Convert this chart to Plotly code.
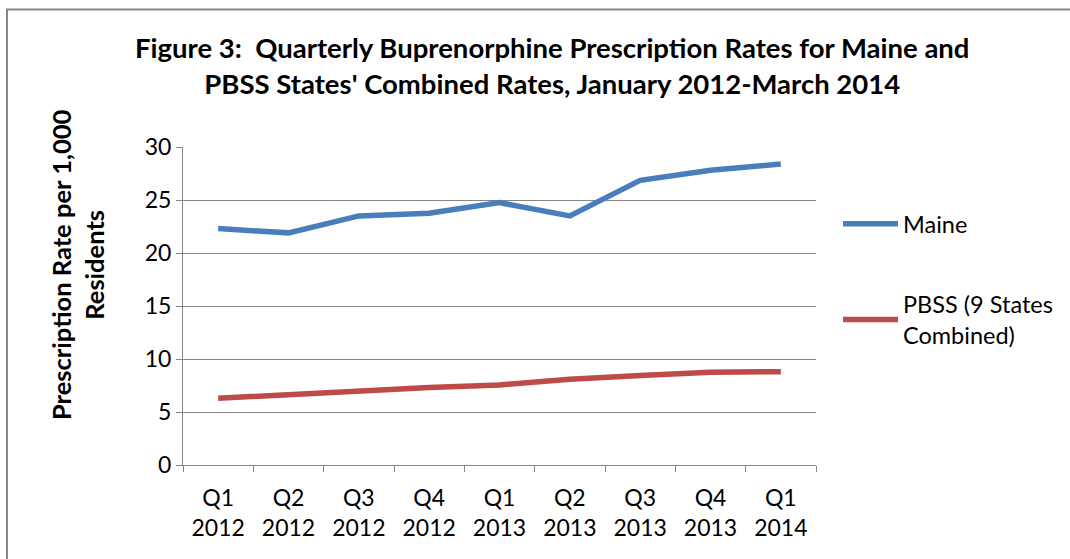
import plotly.graph_objects as go

categories = ["Q1<br>2012", "Q2<br>2012", "Q3<br>2012", "Q4<br>2012", "Q1<br>2013",
              "Q2<br>2013", "Q3<br>2013", "Q4<br>2013", "Q1<br>2014"]
maine = [22.3, 21.9, 23.5, 23.75, 24.75, 23.5, 26.85, 27.8, 28.4]
pbss = [6.3, 6.65, 7.0, 7.3, 7.55, 8.1, 8.45, 8.75, 8.8]
series_names = ["Maine", "PBSS (9 States<br>Combined)"]
title_text = ("<b>Figure 3:  Quarterly Buprenorphine Prescription Rates for Maine and<br>"
              "PBSS States' Combined Rates, January 2012-March 2014</b>")
ytitle_text = "<b>Prescription Rate per 1,000<br>Residents</b>"

FONT = "Lato"
W, H = 1070, 559
L, R, T, B = 183, 816, 147, 465

fig = go.Figure()
fig.add_trace(go.Scatter(x=categories, y=maine, mode="lines", name=series_names[0],
                         line=dict(color="#4A7EBB", width=5.5), legendgroup="a"))
fig.add_trace(go.Scatter(x=categories, y=pbss, mode="lines", name=series_names[1],
                         line=dict(color="#BE4B48", width=5.5), legendgroup="b"))

def px_x(p):
    return (p - L) / (R - L)

def px_y(p):
    return (B - p) / (B - T)

fig.update_layout(
    width=W, height=H,
    margin=dict(l=L, r=W - R, t=T, b=H - B, autoexpand=False),
    paper_bgcolor="white", plot_bgcolor="white",
    font=dict(family=FONT, size=22, color="black"),
    showlegend=True,
    legend=dict(x=px_x(838), y=px_y(202), xanchor="left", yanchor="top",
                font=dict(family=FONT, size=23.5), tracegroupgap=47, itemwidth=55,
                bgcolor="rgba(0,0,0,0)"),
    xaxis=dict(showgrid=False, showline=True, linecolor="#868686", linewidth=1,
               ticks="outside", tickson="boundaries", ticklen=6, tickcolor="#868686",
               tickfont=dict(family=FONT, size=23), range=[-0.5, 8.5],
               ticklabelstandoff=12),
    yaxis=dict(range=[0, 30], dtick=5, showgrid=True, gridcolor="#868686", gridwidth=1,
               showline=True, linecolor="#868686", linewidth=1, ticks="outside",
               ticklen=6, tickcolor="#868686", tickfont=dict(family=FONT, size=23),
               zeroline=False),
    annotations=[
        dict(text=title_text, xref="paper", yref="paper", x=px_x(552), y=px_y(65),
             xanchor="center", yanchor="middle", showarrow=False,
             font=dict(family=FONT, size=27.5, color="black")),
        dict(text=ytitle_text, xref="paper", yref="paper", x=px_x(77), y=px_y(265),
             xanchor="center", yanchor="middle", showarrow=False, textangle=-90,
             font=dict(family=FONT, size=25.5, color="black")),
    ],
    shapes=[
        dict(type="rect", xref="paper", yref="paper", x0=px_x(7), x1=px_x(1080),
             y0=px_y(580), y1=px_y(9.5), line=dict(color="#868686", width=2),
             fillcolor="rgba(0,0,0,0)", layer="below"),
    ],
)

fig.write_html("out.html", config={"displayModeBar": False},
               post_script="document.body.style.margin='0';")
